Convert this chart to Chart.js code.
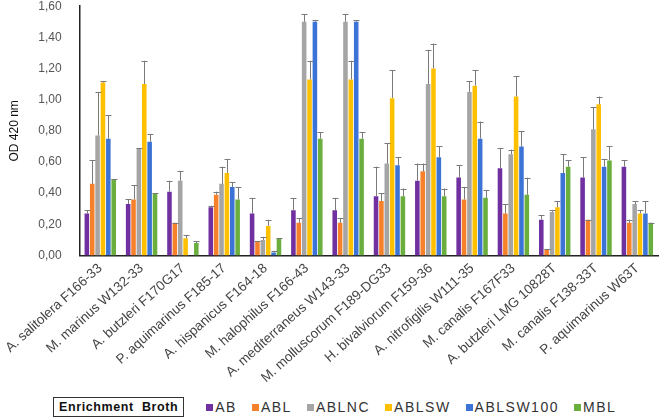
<!DOCTYPE html>
<html>
<head>
<meta charset="utf-8">
<script src="https://cdn.jsdelivr.net/npm/chart.js@4"></script>
<style>
  body { margin: 0; background: #fff; font-family: "Liberation Sans", Arial, sans-serif; }
  #wrap { position: relative; width: 660px; height: 420px; overflow: hidden; }
  #chartBox { position: absolute; left: 0; top: -11px; width: 660px; height: 402px; }
  #legend { position: absolute; left: 53px; top: 397px; display: flex; align-items: center; font-size: 14px; color: #333; letter-spacing: 1.5px; }
  #legend .title { border: 1.5px solid #333; padding: 1px 5px; line-height: 16px; font-weight: bold; color: #111; margin-right: 22px; font-size: 12.5px; letter-spacing: 0.6px; background: #fff; }
  #legend .item { display: flex; align-items: center; margin-right: 15px; }
  #legend .sw { width: 7px; height: 7px; margin-right: 2px; }
</style>
</head>
<body>
<div id="wrap">
  <div id="chartBox"><canvas id="odChart"></canvas></div>
  <div id="legend"><span class="title">Enrichment&nbsp; Broth</span></div>
</div>
<script>
const categories = [
  "A. salitolera F166-33", "M. marinus W132-33", "A. butzleri F170G17", "P. aquimarinus F185-17",
  "A. hispanicus F164-18", "M. halophilus F166-43", "A. mediterraneus W143-33", "M. molluscorum F189-DG33",
  "H. bivalviorum F159-36", "A. nitrofigilis W111-35", "M. canalis F167F33", "A. butzleri LMG 10828T",
  "M. canalis F138-33T", "P. aquimarinus W63T"
];
const seriesNames = ["AB", "ABL", "ABLNC", "ABLSW", "ABLSW100", "MBL"];
const seriesColors = ["#7030A0", "#F7802A", "#A5A5A5", "#FFC000", "#3C73D6", "#6AAE3E"];

const AB       = [0.27, 0.33, 0.41, 0.31, 0.27, 0.29, 0.29, 0.38, 0.48, 0.50, 0.56, 0.23, 0.50, 0.57];
const ABL      = [0.46, 0.36, 0.21, 0.39, 0.09, 0.21, 0.21, 0.35, 0.54, 0.36, 0.27, 0.04, 0.23, 0.21];
const ABLNC    = [0.77, 0.69, 0.48, 0.46, 0.10, 1.50, 1.50, 0.59, 1.10, 1.05, 0.65, 0.28, 0.81, 0.33];
const ABLSW    = [1.11, 1.10, 0.11, 0.53, 0.19, 1.13, 1.13, 1.01, 1.20, 1.09, 1.02, 0.31, 0.97, 0.27];
const ABLSW100 = [0.75, 0.73, 0.00, 0.44, 0.02, 1.50, 1.50, 0.58, 0.63, 0.75, 0.70, 0.53, 0.57, 0.27];
const MBL      = [0.49, 0.40, 0.08, 0.36, 0.11, 0.75, 0.75, 0.38, 0.38, 0.37, 0.39, 0.57, 0.61, 0.21];

// upper error (SD) per bar
const AB_err       = [0.02, 0.03, 0.07, 0.01, 0.10, 0.08, 0.08, 0.19, 0.11, 0.08, 0.13, 0.03, 0.13, 0.04];
const ABL_err      = [0.15, 0.09, 0.00, 0.02, 0.00, 0.03, 0.03, 0.05, 0.05, 0.08, 0.06, 0.00, 0.00, 0.02];
const ABLNC_err    = [0.28, 0.00, 0.06, 0.11, 0.02, 0.05, 0.05, 0.13, 0.22, 0.07, 0.03, 0.01, 0.14, 0.02];
const ABLSW_err    = [0.01, 0.15, 0.02, 0.09, 0.04, 0.12, 0.12, 0.18, 0.16, 0.10, 0.13, 0.04, 0.05, 0.02];
const ABLSW100_err = [0.15, 0.05, 0.00, 0.03, 0.01, 0.01, 0.01, 0.05, 0.07, 0.11, 0.10, 0.12, 0.05, 0.08];
const MBL_err      = [0.00, 0.00, 0.01, 0.08, 0.00, 0.04, 0.04, 0.05, 0.05, 0.05, 0.11, 0.04, 0.09, 0.00];

const values = [AB, ABL, ABLNC, ABLSW, ABLSW100, MBL];
const errors = [AB_err, ABL_err, ABLNC_err, ABLSW_err, ABLSW100_err, MBL_err];

// draws the upper error bars on top of each bar
const errorBars = {
  id: "errorBars",
  afterDatasetsDraw(chart) {
    const ctx = chart.ctx;
    const y = chart.scales.y;
    ctx.save();
    ctx.strokeStyle = "#7a7a7a";
    ctx.lineWidth = 1;
    chart.data.datasets.forEach((ds, di) => {
      const meta = chart.getDatasetMeta(di);
      meta.data.forEach((bar, i) => {
        const v = ds.data[i];
        if (!v) return;
        const top = y.getPixelForValue(v + ds.err[i]);
        const x = Math.round(bar.x) + 0.5;
        ctx.beginPath();
        ctx.moveTo(x, bar.y);
        ctx.lineTo(x, top);
        ctx.moveTo(x - 3, Math.round(top) + 0.5);
        ctx.lineTo(x + 3, Math.round(top) + 0.5);
        ctx.stroke();
      });
    });
    ctx.restore();
  }
};

new Chart(document.getElementById("odChart"), {
  type: "bar",
  data: {
    labels: categories,
    datasets: seriesNames.map((name, k) => ({
      label: name,
      data: values[k],
      err: errors[k],
      backgroundColor: seriesColors[k],
      barPercentage: 0.85,
      categoryPercentage: 0.78
    }))
  },
  options: {
    responsive: true,
    maintainAspectRatio: false,
    animation: false,
    layout: { padding: { top: 0, right: 2, left: 0 } },
    plugins: { legend: { display: false }, tooltip: { enabled: false } },
    scales: {
      x: {
        grid: { display: false, drawTicks: false },
        border: { color: "#222", width: 1.5 },
        ticks: {
          minRotation: 42, maxRotation: 42, padding: 5,
          color: "#444",
          font: { family: "Liberation Sans", size: 13.5 }
        }
      },
      y: {
        min: 0, max: 1.6,
        grid: { display: false },
        border: { color: "#222", width: 1.5 },
        title: { display: true, text: "OD 420 nm", color: "#111", padding: { bottom: 6 }, font: { family: "Liberation Sans", size: 12 } },
        ticks: {
          stepSize: 0.2, padding: 10, color: "#555",
          font: { family: "Liberation Sans", size: 12 },
          callback: v => Number(v).toFixed(2).replace(".", ",")
        }
      }
    }
  },
  plugins: [errorBars]
});

const legend = document.getElementById("legend");
seriesNames.forEach((name, k) => {
  const item = document.createElement("span");
  item.className = "item";
  item.innerHTML = '<span class="sw" style="background:' + seriesColors[k] + '"></span>' + name;
  legend.appendChild(item);
});
</script>
</body>
</html>
